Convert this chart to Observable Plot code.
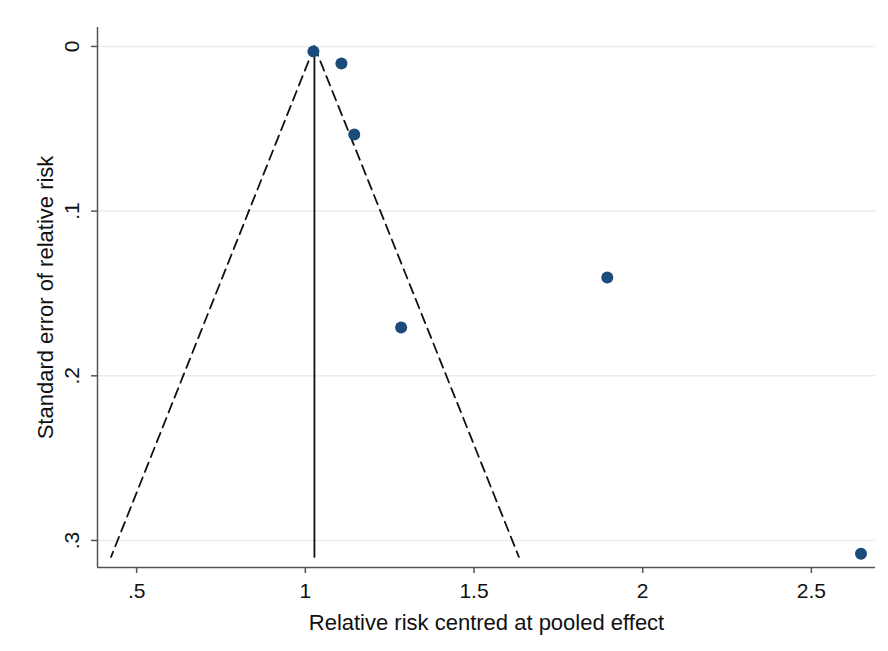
<!DOCTYPE html>
<html>
<head>
<meta charset="utf-8">
<script src="https://cdn.jsdelivr.net/npm/d3@7"></script>
<script src="https://cdn.jsdelivr.net/npm/@observablehq/plot@0.6"></script>
<style>
  html, body { margin: 0; padding: 0; background: #fff; }
  #chart { width: 888px; height: 651px; }
</style>
</head>
<body>
<div id="chart"></div>
<script>
// Study points: relative risk (centred at pooled effect) and standard error
const rr = [1.024, 1.107, 1.145, 1.284, 1.895, 2.647];
const se = [0.003, 0.0103, 0.0535, 0.1707, 0.1403, 0.308];

// Pooled effect and funnel limits
const pooled = 1.027;
const seMax = 0.31;
const funnelLeftX = 0.424;
const funnelRightX = 1.633;

const xTicks = [0.5, 1, 1.5, 2, 2.5];
const yTicks = [0, 0.1, 0.2, 0.3];

const points = rr.map((x, i) => ({x, y: se[i]}));
const leftLine = [{x: pooled, y: 0}, {x: funnelLeftX, y: seMax}];
const rightLine = [{x: pooled, y: 0}, {x: funnelRightX, y: seMax}];
const centerLine = [{x: pooled, y: 0}, {x: pooled, y: seMax}];

const fmt = d => String(d).replace(/^0\./, ".");
const FONT = "Liberation Sans, Arial, Helvetica, sans-serif";

const chart = Plot.plot({
  width: 888,
  height: 651,
  marginLeft: 97,
  marginRight: 13,
  marginTop: 27,
  marginBottom: 84,
  style: {fontFamily: FONT, fontSize: "21px", color: "#111", background: "#fff"},
  x: {domain: [0.384, 2.69]},
  y: {domain: [-0.0115, 0.3164], reverse: true},
  marks: [
    Plot.gridY(yTicks, {stroke: "#e6edf2", strokeOpacity: 1, strokeWidth: 1.5}),
    Plot.axisX(xTicks, {tickFormat: fmt, tickSize: 6, tickPadding: 10, stroke: "#555", strokeWidth: 1.5, fontSize: 21, label: null}),
    Plot.axisY(yTicks, {tickFormat: fmt, tickSize: 6, tickRotate: -90, tickPadding: 13, stroke: "#555", strokeWidth: 1.5, fontSize: 21, label: null}),
    Plot.ruleX([0.384], {stroke: "#555", strokeWidth: 1.5}),
    Plot.ruleY([0.3164], {stroke: "#555", strokeWidth: 1.5}),
    Plot.line(leftLine, {x: "x", y: "y", stroke: "#111", strokeWidth: 1.8, strokeDasharray: "10,6"}),
    Plot.line(rightLine, {x: "x", y: "y", stroke: "#111", strokeWidth: 1.8, strokeDasharray: "10,6"}),
    Plot.line(centerLine, {x: "x", y: "y", stroke: "#111", strokeWidth: 1.8}),
    Plot.dot(points, {x: "x", y: "y", r: 6, fill: "#1b4b78", stroke: "none"}),
    Plot.text(["Relative risk centred at pooled effect"], {frameAnchor: "bottom", lineAnchor: "bottom", dy: 62, fontSize: 22, fill: "#111"}),
    Plot.text(["Standard error of relative risk"], {frameAnchor: "left", textAnchor: "middle", dx: -52, rotate: -90, fontSize: 22, fill: "#111"})
  ]
});
document.getElementById("chart").appendChild(chart);
</script>
</body>
</html>
